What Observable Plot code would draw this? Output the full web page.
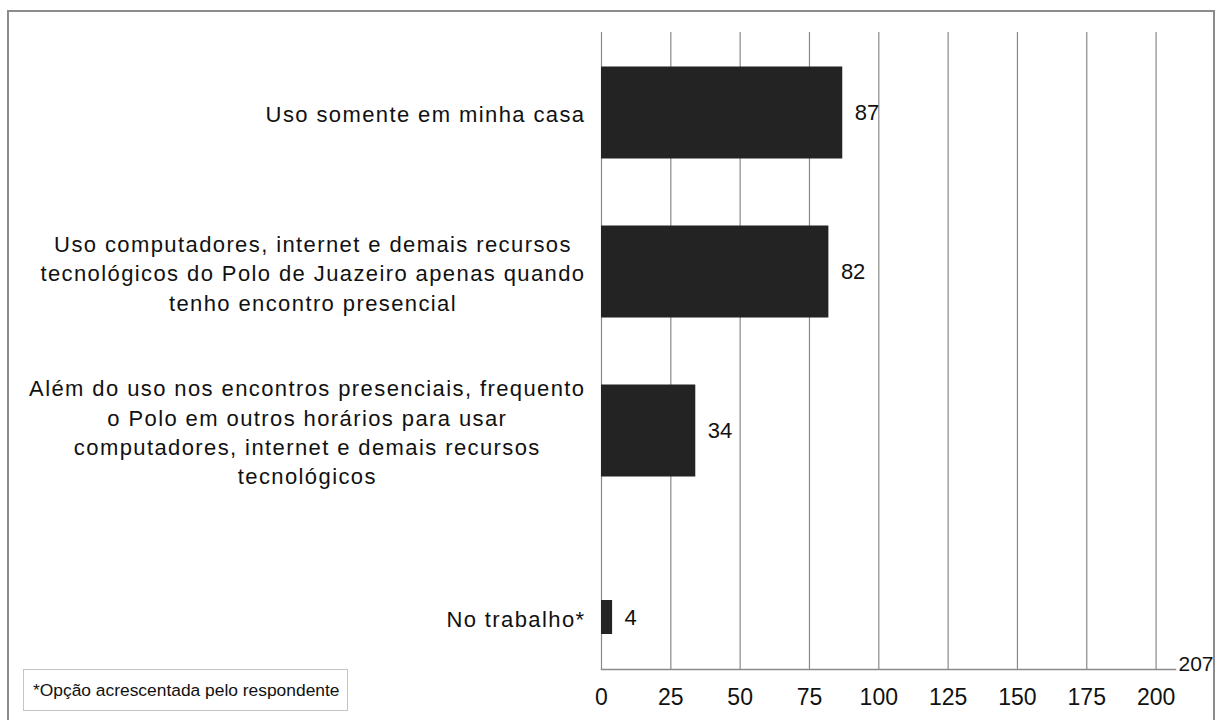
<!DOCTYPE html>
<html><head><meta charset="utf-8">
<script src="https://cdn.jsdelivr.net/npm/d3@7"></script>
<script src="https://cdn.jsdelivr.net/npm/@observablehq/plot@0.6"></script>
<style>
body{margin:0;background:#fff;font-family:"Liberation Sans",Arial,sans-serif}
#wrap{position:relative;width:1218px;height:720px;overflow:hidden;background:#fff}
#chart{position:absolute;left:0;top:0}
#frame{position:absolute;left:7px;top:10px;width:1208px;height:760px;border:2px solid #8c8c8c;box-sizing:border-box;pointer-events:none}
#note{position:absolute;left:23px;top:669px;width:325px;height:42px;border:1px solid #c4c4c4;box-sizing:border-box;font-size:17.4px;line-height:40px;padding-left:9px;color:#111;background:#fff;white-space:nowrap}
</style></head><body>
<div id="wrap"><div id="chart"></div><div id="frame"></div><div id="note"></div></div>
<script>
const categories = [
  "Uso somente em minha casa",
  "Uso computadores, internet e demais recursos\ntecnológicos do Polo de Juazeiro apenas quando\ntenho encontro presencial",
  "Além do uso nos encontros presenciais, frequento\no Polo em outros horários para usar\ncomputadores, internet e demais recursos\ntecnológicos",
  "No trabalho*"
];
const values = [87, 82, 34, 4];
const xTicks = [0, 25, 50, 75, 100, 125, 150, 175, 200];
const xMax = 207;
const footnote = "*Opção acrescentada pelo respondente";

const data = categories.map((c, i) => ({cat: c, value: values[i]}));
const main = data.slice(0, 3);
const extra = data.slice(3);

const labelFont = 22, labelLS = 1.4;
const ctx = document.createElement("canvas").getContext("2d");
ctx.font = `${labelFont}px "Liberation Sans"`;
function blockWidth(s) {
  return Math.max(...s.split("\n").map(l => ctx.measureText(l).width + labelLS * l.length));
}

const labelMarks = data.map((d, i) => Plot.text([d], {
  x: () => 0, y: "cat", text: "cat",
  textAnchor: "middle", lineAnchor: "middle",
  dx: -(16 + blockWidth(d.cat) / 2),
  dy: i === 3 ? 28 : 0,
  lineHeight: 1.33,
  fontSize: labelFont, fill: "#111",
  ariaDescription: "category-label"
}));

const chart = Plot.plot({
  width: 1218, height: 720,
  marginLeft: 601, marginRight: 43, marginTop: 32, marginBottom: 51,
  style: {fontFamily: '"Liberation Sans", Arial, sans-serif', background: "transparent"},
  x: {domain: [0, xMax], ticks: xTicks, label: null},
  y: {domain: categories, padding: 0, axis: null},
  marks: [
    Plot.ruleX(xTicks, {stroke: "#8a8a8a", strokeWidth: 1.2}),
    Plot.frame({anchor: "bottom", stroke: "#8a8a8a", strokeWidth: 1.5}),
    Plot.axisX({ticks: xTicks, tickSize: 0, tickPadding: 19, fontSize: 23, fill: "#111", label: null}),
    Plot.barX(main, {x: "value", y: "cat", fill: "#232323", insetTop: 33.5, insetBottom: 33.5}),
    Plot.barX(extra, {x: "value", y: "cat", fill: "#232323", insetTop: 90, insetBottom: 35}),
    Plot.text(main, {x: "value", y: "cat", text: d => String(d.value), dx: 12, textAnchor: "start", fontSize: 22, fill: "#111"}),
    Plot.text(extra, {x: "value", y: "cat", text: d => String(d.value), dx: 12, dy: 28, textAnchor: "start", fontSize: 22, fill: "#111"}),
    Plot.text([xMax], {x: d => d, frameAnchor: "bottom", text: d => String(d), textAnchor: "start", lineAnchor: "bottom", dx: 3, dy: 1, fontSize: 21, fill: "#111"}),
    ...labelMarks
  ]
});
d3.select(chart).selectAll("g[aria-description='category-label']")
  .attr("letter-spacing", labelLS + "px")
  .selectAll("text").attr("letter-spacing", labelLS + "px");
document.getElementById("chart").appendChild(chart);
document.getElementById("note").textContent = footnote;
</script>
</body></html>
